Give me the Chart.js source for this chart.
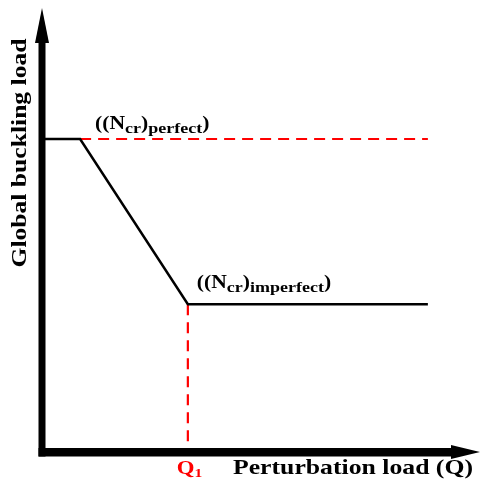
<!DOCTYPE html>
<html>
<head>
<meta charset="utf-8">
<script src="https://cdn.jsdelivr.net/npm/chart.js@4.4.1/dist/chart.umd.min.js"></script>
<style>
  body { margin: 0; background: #fff; }
  canvas { display: block; }
</style>
</head>
<body>
<canvas id="bucklingChart" width="481" height="489"></canvas>
<script>
// conceptual curve, axis units 0..100
var loadQ = [0, 8.7, 33.3, 88.1];
var bucklingLoad = [70.5, 70.5, 33.3, 33.3];
var perfectQ = [8.7, 88.1];
var perfectLoad = [70.5, 70.5];
var q1Q = [33.3, 33.3];
var q1Load = [33.3, 0];

var xTitle = 'Perturbation load (Q)';
var yTitle = 'Global buckling load';
var FONT = '"Liberation Serif", "Times New Roman", serif';
var SX = 1.2; // text in the picture is a bit wide

function toPoints(xs, ys) {
  return xs.map(function (v, i) { return { x: v, y: ys[i] }; });
}

function drawParts(ctx, parts, x, y) {
  parts.forEach(function (p) {
    ctx.font = 'bold ' + p[1] + 'px ' + FONT;
    ctx.save();
    ctx.translate(x, y + p[2]);
    ctx.scale(SX, 1);
    ctx.fillText(p[0], 0, 0);
    ctx.restore();
    x += ctx.measureText(p[0]).width * SX;
  });
}

function fitText(ctx, str, x, y, size, width, angle) {
  ctx.font = 'bold ' + size + 'px ' + FONT;
  var w = ctx.measureText(str).width;
  ctx.save();
  ctx.translate(x, y);
  ctx.rotate(angle);
  ctx.scale(width / w, 1);
  ctx.fillText(str, 0, 0);
  ctx.restore();
}

var arrowAxes = {
  id: 'arrowAxes',
  afterDatasetsDraw: function (chart) {
    var ctx = chart.ctx;
    var xs = chart.scales.x, ys = chart.scales.y;
    var x0 = xs.getPixelForValue(0), y0 = ys.getPixelForValue(0);
    var xEnd = xs.right, yEnd = ys.top;
    ctx.save();
    ctx.fillStyle = '#000';
    // shafts
    ctx.fillRect(x0 - 3.5, yEnd + 32, 7, y0 + 4.5 - (yEnd + 32));
    ctx.fillRect(x0 - 3.5, y0 - 4, xEnd - 27 - (x0 - 3.5), 8.5);
    // heads
    ctx.beginPath();
    ctx.moveTo(x0, yEnd);
    ctx.lineTo(x0 + 7, yEnd + 35);
    ctx.lineTo(x0 - 7, yEnd + 35);
    ctx.closePath();
    ctx.fill();
    ctx.beginPath();
    ctx.moveTo(xEnd, y0);
    ctx.lineTo(xEnd - 29, y0 - 7);
    ctx.lineTo(xEnd - 29, y0 + 7);
    ctx.closePath();
    ctx.fill();

    // axis titles
    ctx.textAlign = 'left';
    ctx.textBaseline = 'alphabetic';
    fitText(ctx, xTitle, 233, 474, 21, 240, 0);
    ctx.textAlign = 'center';
    fitText(ctx, yTitle, 26, 153, 21, 229, -Math.PI / 2);

    // curve labels
    ctx.textAlign = 'left';
    var kx = xs.getPixelForValue(perfectQ[0]), ky = ys.getPixelForValue(perfectLoad[0]);
    drawParts(ctx, [['((N', 18, 0], ['cr', 15, 4], [')', 18, 0], ['perfect', 15, 4], [')', 18, 0]], kx + 15, ky - 10);
    var ix = xs.getPixelForValue(loadQ[2]), iy = ys.getPixelForValue(bucklingLoad[2]);
    drawParts(ctx, [['((N', 18, 0], ['cr', 15, 4], [')', 18, 0], ['imperfect', 15, 4], [')', 18, 0]], ix + 9, iy - 16);
    ctx.fillStyle = '#ff0000';
    drawParts(ctx, [['Q', 19, 0], ['1', 13, 3]], xs.getPixelForValue(q1Q[0]) - 11, 474);
    ctx.restore();
  }
};

function makeChart() {
  new Chart(document.getElementById('bucklingChart'), {
    type: 'scatter',
    data: {
      datasets: [{
        data: toPoints(loadQ, bucklingLoad),
        showLine: true,
        borderColor: '#000',
        borderWidth: 2.5,
        pointRadius: 0
      }, {
        data: toPoints(perfectQ, perfectLoad),
        showLine: true,
        borderColor: '#ff0000',
        borderWidth: 2.2,
        borderDash: [11, 7],
        pointRadius: 0
      }, {
        data: toPoints(q1Q, q1Load),
        showLine: true,
        borderColor: '#ff0000',
        borderWidth: 2.2,
        borderDash: [11, 7],
        pointRadius: 0
      }]
    },
    options: {
      responsive: false,
      animation: false,
      layout: { padding: { left: 42, right: 1, top: 8, bottom: 37 } },
      plugins: { legend: { display: false }, tooltip: { enabled: false } },
      scales: {
        x: { type: 'linear', min: 0, max: 100, display: false },
        y: { type: 'linear', min: 0, max: 100, display: false }
      }
    },
    plugins: [arrowAxes]
  });
}

if (document.fonts && document.fonts.load) {
  document.fonts.load('bold 20px "Liberation Serif"').then(makeChart, makeChart);
} else {
  makeChart();
}
</script>
</body>
</html>
